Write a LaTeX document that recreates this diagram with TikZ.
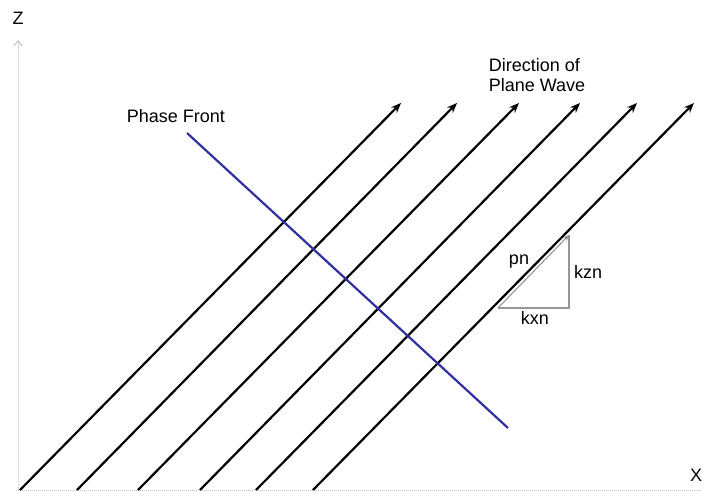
\documentclass[tikz,border=0pt]{standalone}
\usepackage{fontspec}
\setmainfont{Liberation Sans}
\usetikzlibrary{arrows.meta}
\definecolor{frontblue}{RGB}{48,48,160}
\definecolor{axisgray}{RGB}{195,195,195}
\definecolor{trigray}{RGB}{150,150,150}
\begin{document}
\begin{tikzpicture}[x=1pt,y=-1pt,
  lbl/.style={font=\fontsize{18}{20}\selectfont, inner sep=0pt},
  ray/.style={line width=2.2pt, black, -{Stealth[length=10pt,width=8pt]}},
  axis/.style={axisgray, line width=1pt, densely dotted},
  tri/.style={trigray, line width=1.1pt}]
\useasboundingbox (0,0) rectangle (702,494);
% axes
\coordinate (o) at (18,490);
\coordinate (ztop) at (18,40);
\coordinate (xend) at (702,490);
\draw[axis, -{Straight Barb[length=5pt,width=8pt]}] (o) -- (ztop);
\draw[axis] (o) -- (xend);
\node[lbl] (zl) at (18,18) {Z};
\node[lbl] (xl) at (696,475) {X};
% rays
\foreach \i/\sx/\tx in {1/20/401, 2/77/457, 3/138/519, 4/200/580, 5/256/637, 6/313/694} {
  \coordinate (s\i) at (\sx,490);
  \coordinate (t\i) at (\tx,103);
  \draw[ray] (s\i) -- (t\i);
}
% phase front
\coordinate (pf1) at (187,133);
\coordinate (pf2) at (508,428);
\draw[frontblue, line width=2.2pt] (pf1) -- (pf2);
\node[lbl] (pfl) at (176,116) {Phase Front};
\node[lbl, align=left] (dir) at (537,75) {Direction of\\Plane Wave};
% triangle
\coordinate (ta) at (498,308);
\coordinate (tb) at (569,308);
\coordinate (tc) at (569,235);
\draw[tri] (ta) -- (tb) -- (tc);
\draw[tri, -{Stealth[length=6pt,width=5pt]}] (ta) -- (tc);
\node[lbl] (pn) at (519,262) {pn};
\node[lbl] (kzn) at (588,272) {kzn};
\node[lbl] (kxn) at (535,318) {kxn};
\end{tikzpicture}
\end{document}
